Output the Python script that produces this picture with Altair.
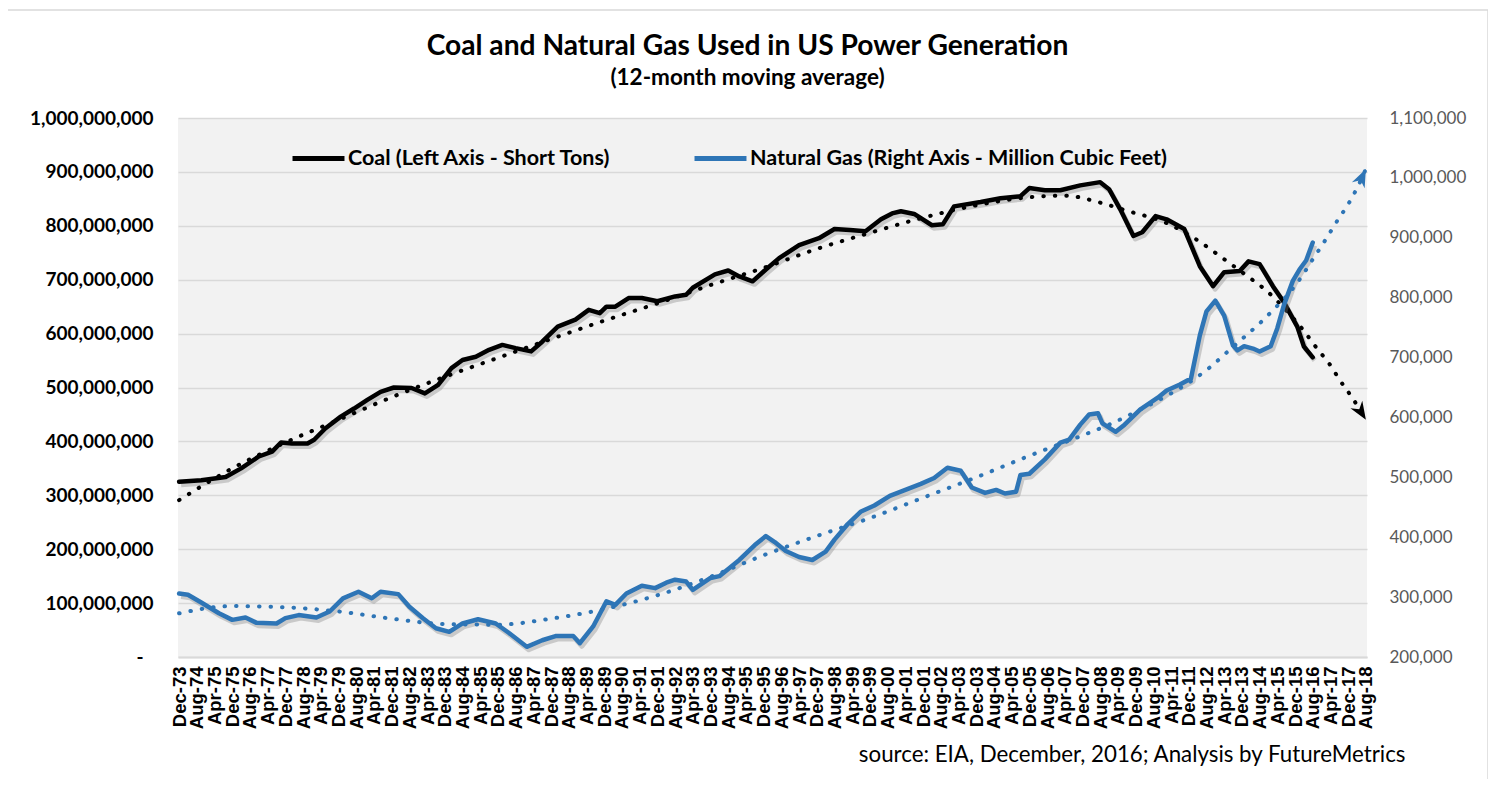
import altair as alt
import pandas as pd

TITLE = "Coal and Natural Gas Used in US Power Generation"
SUBTITLE = "(12-month moving average)"
COAL = "Coal (Left Axis - Short Tons)"
GAS = "Natural Gas (Right Axis - Million Cubic Feet)"
SOURCE = "source: EIA, December, 2016; Analysis by FutureMetrics"

x_labels = ["Dec-73","Aug-74","Apr-75","Dec-75","Aug-76","Apr-77","Dec-77","Aug-78","Apr-79","Dec-79",
            "Aug-80","Apr-81","Dec-81","Aug-82","Apr-83","Dec-83","Aug-84","Apr-85","Dec-85","Aug-86",
            "Apr-87","Dec-87","Aug-88","Apr-89","Dec-89","Aug-90","Apr-91","Dec-91","Aug-92","Apr-93",
            "Dec-93","Aug-94","Apr-95","Dec-95","Aug-96","Apr-97","Dec-97","Aug-98","Apr-99","Dec-99",
            "Aug-00","Apr-01","Dec-01","Aug-02","Apr-03","Dec-03","Aug-04","Apr-05","Dec-05","Aug-06",
            "Apr-07","Dec-07","Aug-08","Apr-09","Dec-09","Aug-10","Apr-11","Dec-11","Aug-12","Apr-13",
            "Dec-13","Aug-14","Apr-15","Dec-15","Aug-16","Apr-17","Dec-17","Aug-18"]

# Coal, 12-month moving average, million short tons
coal_dates = ["1973-12","1974-10","1975-09","1976-04","1976-12","1977-06","1977-10","1978-03","1978-10","1979-01",
              "1979-06","1980-01","1980-07","1981-01","1981-07","1982-01","1982-09","1983-03","1983-09","1984-03",
              "1984-08","1985-02","1985-08","1986-02","1986-08","1987-03","1987-08","1988-03","1988-11","1989-05",
              "1989-10","1990-01","1990-05","1990-11","1991-05","1991-12","1992-08","1993-01","1993-04","1994-02",
              "1994-08","1995-01","1995-07","1996-01","1996-07","1997-04","1998-01","1998-08","1999-03","1999-10",
              "2000-05","2000-10","2001-02","2001-08","2002-04","2002-09","2003-02","2004-02","2004-11","2005-08",
              "2005-12","2006-07","2007-02","2007-11","2008-08","2008-12","2009-05","2009-11","2010-03","2010-09",
              "2011-02","2011-10","2012-05","2012-11","2013-04","2013-11","2014-03","2014-08","2015-02","2015-07",
              "2016-01","2016-04","2016-08"]
coal_mst = [325,328,334,350,372,381,398,396,396,403,
            424,446,461,477,492,500,499,489,505,536,
            551,557,570,579,573,567,585,613,626,644,
            638,650,650,666,666,660,669,672,685,710,
            717,706,697,719,740,764,777,794,792,790,
            812,823,827,822,801,803,836,844,851,855,
            870,866,866,875,881,868,831,781,788,818,
            812,794,725,688,714,716,734,729,688,658,
            613,576,556]

# Natural gas, 12-month moving average, thousand million cubic feet
gas_dates = ["1973-12","1974-04","1974-10","1975-06","1975-12","1976-06","1976-11","1977-08","1977-12","1978-06",
             "1979-02","1979-08","1980-02","1980-09","1981-03","1981-07","1982-03","1982-08","1983-02","1983-08",
             "1984-02","1984-08","1985-03","1985-11","1986-05","1987-01","1987-08","1988-02","1988-10","1989-01",
             "1989-07","1990-01","1990-05","1990-10","1991-05","1991-11","1992-04","1992-08","1993-01","1993-04",
             "1993-12","1994-04","1995-01","1995-08","1996-01","1996-05","1996-10","1997-04","1997-10","1998-04",
             "1998-08","1999-02","1999-08","2000-02","2000-09","2001-04","2001-11","2002-05","2002-11","2003-05",
             "2003-10","2004-04","2004-09","2005-01","2005-06","2005-08","2005-12","2006-07","2007-02","2007-06",
             "2007-11","2008-03","2008-07","2008-09","2009-03","2009-07","2010-02","2010-10","2011-02","2011-08",
             "2012-01","2012-05","2012-08","2012-12","2013-04","2013-08","2013-10","2014-01","2014-05","2014-08",
             "2015-01","2015-04","2015-07","2015-11","2016-02","2016-05","2016-08"]
gas_kmmcf = [306,304,291,273,262,266,257,256,265,270,
             266,276,298,309,298,309,305,284,265,248,
             242,256,263,256,240,217,228,235,235,223,
             251,293,287,306,319,315,324,329,326,312,
             332,335,362,387,402,392,377,367,362,376,
             396,422,443,453,469,479,489,499,516,511,
             483,474,479,473,476,504,506,530,558,563,
             588,605,607,590,576,588,613,633,645,655,
             665,737,777,795,770,720,712,719,715,710,
             719,749,788,828,847,862,892]

# Polynomial trend lines (dotted, with forecast to Aug-18)
coal_trend_dates = ["1973-12","1975-12","1977-12","1979-12","1981-12","1983-12","1985-12","1987-12","1989-12","1991-12",
                    "1993-12","1995-12","1997-12","1999-12","2001-12","2003-12","2005-12","2007-04","2008-08","2009-08",
                    "2011-02","2012-04","2013-05","2014-04","2014-11","2015-08","2016-04","2016-10","2017-04","2017-08",
                    "2018-02","2018-08"]
coal_trend_mst = [291,350,398,440,482,520,555,590,624,656,
                  690,722,757,787,815,838,853,856,843,828,
                  805,773,735,702,680,643,605,572,541,515,
                  480,440]
gas_trend_dates = ["1973-12","1975-12","1977-12","1979-12","1981-12","1983-12","1985-12","1987-12","1989-12","1991-12",
                   "1993-12","1995-12","1997-12","1999-12","2001-12","2003-12","2005-12","2007-12","2008-12","2010-02",
                   "2011-02","2012-02","2012-10","2013-05","2014-01","2014-08","2015-02","2015-08","2016-02","2016-08",
                   "2017-02","2017-07","2017-12","2018-04","2018-08"]
gas_trend_kmmcf = [273,285,283,276,264,255,254,264,280,303,
                   334,370,402,432,466,500,536,570,588,613,
                   636,663,685,708,734,757,779,802,830,864,
                   898,928,956,983,1015]


def month_index(s):
    y, m = map(int, s.split("-"))
    return (y - 1973) * 12 + (m - 12)


coal_df = pd.DataFrame({"m": [month_index(d) for d in coal_dates],
                        "v": [v * 1e6 for v in coal_mst], "series": COAL})
gas_df = pd.DataFrame({"m": [month_index(d) for d in gas_dates],
                       "v": [v * 1e3 for v in gas_kmmcf], "series": GAS})
coal_tr = pd.DataFrame({"m": [month_index(d) for d in coal_trend_dates],
                        "v": [v * 1e6 for v in coal_trend_mst]})
gas_tr = pd.DataFrame({"m": [month_index(d) for d in gas_trend_dates],
                       "v": [v * 1e3 for v in gas_trend_kmmcf]})

label_array = "[" + ",".join("'" + l + "'" for l in x_labels) + "]"
n_months = month_index("2018-08")

x_scale = alt.Scale(domain=[-0.5, n_months + 0.5], nice=False, zero=False)
x_axis = alt.Axis(values=list(range(0, n_months + 1, 8)),
                  labelExpr=label_array + "[round(datum.value/8)]",
                  labelAngle=-90, labelFont="Liberation Sans", labelFontWeight="bold",
                  labelFontSize=18.5, labelColor="black", labelPadding=9, labelOverlap=False,
                  labelBound=False, ticks=False, grid=False, domainColor="#D9D9D9", domainWidth=2,
                  titleFont="Lato", titleFontSize=22.3, titleFontWeight="normal", titleColor="black",
                  titleX=1227, titleY=104, titleAlign="right", titleBaseline="alphabetic", titleAngle=0)
X = alt.X("m:Q", scale=x_scale, axis=x_axis, title=SOURCE)

yl_scale = alt.Scale(domain=[0, 1e9], nice=False, zero=True)
yl_axis = alt.Axis(values=[i * 100000000 for i in range(11)],
                   labelExpr="datum.value == 0 ? '-' : format(datum.value, ',')",
                   grid=True, gridColor="#D9D9D9", gridWidth=1.5, domain=False, ticks=False,
                   labelPadding={"condition": {"test": "datum.value === 0", "value": 35}, "value": 25},
                   labelFont="Lato", labelFontWeight="bold", labelFontSize=19,
                   labelColor="black")
YL = alt.Y("v:Q", scale=yl_scale, axis=yl_axis, title=None)

yr_scale = alt.Scale(domain=[200000, 1100000], nice=False, zero=False)
yr_axis = alt.Axis(orient="right", values=[200000 + i * 100000 for i in range(10)],
                   labelExpr="format(datum.value, ',')",
                   grid=False, domain=False, ticks=False, labelPadding=22, labelFont="Lato",
                   labelFontSize=17, labelColor="#595959")
YR = alt.Y("v:Q", scale=yr_scale, axis=yr_axis, title=None)

legend = alt.Legend(orient="none", legendX=112, legendY=12, direction="horizontal", title=None,
                    symbolType="stroke", symbolSize=2700, symbolStrokeWidth=5, labelFont="Lato",
                    labelFontWeight="bold", labelFontSize=21.5, labelColor="black", labelOffset=1,
                    columnPadding=73, labelLimit=600)
color = alt.Color("series:N", scale=alt.Scale(domain=[COAL, GAS], range=["#000000", "#2E75B6"]),
                  legend=legend)

# stealth arrowhead pointing to +x with its tip at the symbol origin
ARROW = "M0,0L-1.8,-0.7L-1.25,0L-1.8,0.7Z"

one = pd.DataFrame({"a": [0]})
frame = alt.Chart(one).mark_rect(
    fill="transparent", stroke="#D9D9D9", strokeWidth=1.5
).encode(x=alt.value(-171), x2=alt.value(1310), y=alt.value(-108), y2=alt.value(700))
title_txt = alt.Chart(one).mark_text(text=TITLE, font="Lato", fontSize=28.2, fontWeight="bold",
                                     color="black", align="center", baseline="alphabetic").encode(
    x=alt.value(569.5), y=alt.value(-63))
subtitle_txt = alt.Chart(one).mark_text(text=SUBTITLE, font="Lato", fontSize=22.5, fontWeight="bold",
                                        color="black", align="center", baseline="alphabetic").encode(
    x=alt.value(569.5), y=alt.value(-33))

coal_shadow = alt.Chart(coal_df).mark_line(color="#7f7f7f", opacity=0.35, strokeWidth=5,
                                           xOffset=2, yOffset=3, strokeJoin="round").encode(x=X, y=YL)
coal_line = alt.Chart(coal_df).mark_line(strokeWidth=4.5, strokeJoin="round", strokeCap="round").encode(
    x=X, y=YL, color=color)
coal_trend = alt.Chart(coal_tr).mark_line(color="black", strokeWidth=4, strokeDash=[0.5, 11],
                                          strokeCap="round", interpolate="monotone").encode(x=X, y=YL)
coal_arrow = alt.Chart(coal_tr.tail(1)).mark_point(shape=ARROW, filled=True, size=400, angle=58,
                                                   color="black", opacity=1).encode(x=X, y=YL)

gas_shadow = alt.Chart(gas_df).mark_line(color="#7f7f7f", opacity=0.35, strokeWidth=5,
                                         xOffset=2, yOffset=3, strokeJoin="round").encode(x=X, y=YR)
gas_line = alt.Chart(gas_df).mark_line(strokeWidth=4.5, strokeJoin="round", strokeCap="round").encode(
    x=X, y=YR, color=color)
gas_trend = alt.Chart(gas_tr).mark_line(color="#2E75B6", strokeWidth=4, strokeDash=[0.5, 11],
                                        strokeCap="round", interpolate="monotone").encode(x=X, y=YR)
gas_arrow = alt.Chart(gas_tr.tail(1)).mark_point(shape=ARROW, filled=True, size=400, angle=295,
                                                 color="#2E75B6", opacity=1).encode(x=X, y=YR)

coal_group = alt.layer(frame, title_txt, subtitle_txt, coal_shadow, coal_trend, coal_line, coal_arrow)
gas_group = alt.layer(gas_shadow, gas_trend, gas_line, gas_arrow)

chart = alt.layer(coal_group, gas_group).resolve_scale(y="independent").properties(
    width=1189, height=539,
    padding={"left": 170, "top": 110, "right": 121, "bottom": 122},
    autosize="none",
    background="white",
).configure_view(fill="#F2F2F2", stroke=None)

chart.save("out.html", embed_options={"renderer": "svg", "actions": False})
